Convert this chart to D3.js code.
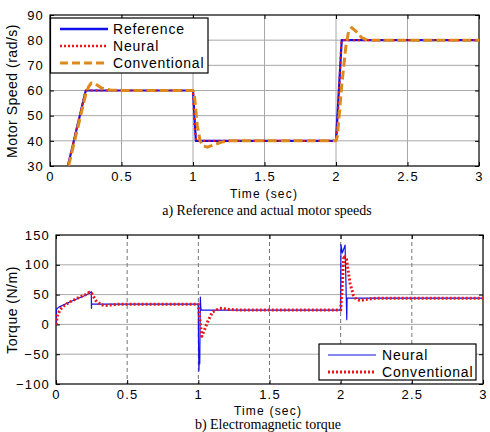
<!DOCTYPE html>
<html>
<head>
<meta charset="utf-8">
<script src="https://cdn.jsdelivr.net/npm/d3@7"></script>
<style>
body { margin: 0; background: #fff; }
svg { display: block; }
</style>
</head>
<body>
<div id="chart-area"></div>
<script>
// ---------------- data ----------------
// a) motor speed
var refTime = [0, 0.25, 1.0, 1.02, 2.0, 2.04, 3.0];
var refSpeed = [0, 60, 60, 40, 40, 80, 80];

var neuralTime = [0, 0.25, 1.0, 1.01, 1.022, 2.0, 2.01, 2.038, 3.0];
var neuralSpeed = [0, 60, 60, 46, 40, 40, 46, 80, 80];

var convTime = [0, 0.13, 0.25, 0.27, 0.29, 0.32, 0.36, 0.42, 0.5, 1.0, 1.01, 1.03, 1.05, 1.07, 1.1, 1.15, 1.2, 1.26, 2.0, 2.01, 2.04, 2.07, 2.09, 2.11, 2.14, 2.18, 2.22, 3.0];
var convSpeed = [0, 30, 58.5, 61.5, 63, 62.5, 61, 60.2, 60, 60, 58, 46, 40, 38, 37.5, 38.5, 39.5, 40, 40, 42, 62, 78, 84, 85, 83.5, 81, 80, 80];

// b) electromagnetic torque
var nTorqTime = [0, 0.004, 0.02, 0.1, 0.2, 0.24, 0.248, 0.249, 0.25, 0.252, 1.0, 1.001, 1.004, 1.007, 1.01, 1.014, 1.018, 1.02, 2.0, 2.002, 2.012, 2.031, 2.043, 2.045, 3.0];
var nTorque = [0, 26, 29, 38, 48, 53, 55, 27, 35, 34, 34, -20, -78, -58, -66, 46, 26, 24, 24, 134, 120, 133, 8, 44, 44];

var cTorqTime = [0, 0.01, 0.03, 0.06, 0.1, 0.15, 0.2, 0.235, 0.25, 0.28, 0.31, 0.34, 0.38, 0.45, 1.0, 1.01, 1.024, 1.05, 1.07, 1.1, 1.15, 1.2, 1.3, 2.0, 2.01, 2.018, 2.024, 2.04, 2.066, 2.089, 2.11, 2.136, 2.18, 2.25, 3.0];
var cTorque = [0, 15, 25, 32, 38, 44, 49, 54, 52, 40, 34, 31.5, 32.5, 34, 34, 10, -20, -5, 7, 21, 27, 25.5, 24, 24, 60, 100, 116, 110, 69, 49, 42, 40, 42, 44, 44];

var timeTicks = [0, 0.5, 1, 1.5, 2, 2.5, 3];
var speedTicksY = [30, 40, 50, 60, 70, 80, 90];
var torqueTicksY = [-100, -50, 0, 50, 100, 150];

var blue = "#1010e8", red = "#e8161b", orange = "#dc8a1e";
var sans = "Arial, 'Liberation Sans', sans-serif";

function zip(t, v) {
    return t.map(function(d, i) { return [d, v[i]]; });
}

var svg = d3.select("#chart-area").append("svg")
    .attr("width", 490)
    .attr("height", 432);

// builds one matlab style panel
function panel(box, yDomain, yTicks, vDashed, id) {
    var x = d3.scaleLinear().domain([0, 3]).range([box.left, box.right]);
    var y = d3.scaleLinear().domain(yDomain).range([box.bottom, box.top]);
    var w = box.right - box.left, h = box.bottom - box.top;

    svg.append("clipPath").attr("id", id)
        .append("rect").attr("x", box.left).attr("y", box.top).attr("width", w).attr("height", h);

    // grid
    var grid = svg.append("g");
    grid.selectAll(".hg").data(yTicks.slice(1, -1)).enter().append("line")
        .attr("x1", box.left).attr("x2", box.right)
        .attr("y1", function(d) { return y(d); }).attr("y2", function(d) { return y(d); })
        .attr("stroke", "#a8a8a8").attr("stroke-width", 1);
    grid.selectAll(".vg").data(timeTicks.slice(1, -1)).enter().append("line")
        .attr("y1", box.top).attr("y2", box.bottom)
        .attr("x1", function(d) { return x(d); }).attr("x2", function(d) { return x(d); })
        .attr("stroke", vDashed ? "#777" : "#a8a8a8").attr("stroke-width", 1)
        .attr("stroke-dasharray", vDashed ? "4,3" : null);

    // axes, ticks pointing inwards
    var axes = svg.append("g");
    axes.append("g").attr("transform", "translate(0," + box.bottom + ")")
        .call(d3.axisBottom(x).tickValues(timeTicks).tickSize(-4).tickPadding(6).tickFormat(d3.format("")));
    axes.append("g").attr("transform", "translate(" + box.left + ",0)")
        .call(d3.axisLeft(y).tickValues(yTicks).tickSize(-4).tickPadding(6));
    axes.append("g").attr("transform", "translate(0," + box.top + ")")
        .call(d3.axisTop(x).tickValues(timeTicks).tickSize(-4).tickFormat(""));
    axes.append("g").attr("transform", "translate(" + box.right + ",0)")
        .call(d3.axisRight(y).tickValues(yTicks).tickSize(-4).tickFormat(""));
    axes.selectAll(".domain").remove();
    axes.selectAll(".tick line").attr("stroke", "#000");
    axes.selectAll(".tick text")
        .attr("font-family", sans)
        .attr("font-size", "13px")
        .attr("letter-spacing", 1.2)
        .attr("fill", "#000");

    axes.append("rect").attr("x", box.left).attr("y", box.top).attr("width", w).attr("height", h)
        .attr("fill", "none").attr("stroke", "#000").attr("stroke-width", 1.2);

    return {x: x, y: y};
}

function drawLine(sc, data, color, width, dash, clip) {
    svg.append("path")
        .datum(data)
        .attr("clip-path", "url(#" + clip + ")")
        .attr("fill", "none")
        .attr("stroke", color)
        .attr("stroke-width", width)
        .attr("stroke-dasharray", dash)
        .attr("stroke-linejoin", "round")
        .attr("d", d3.line().x(function(d) { return sc.x(d[0]); }).y(function(d) { return sc.y(d[1]); }));
}

function label(txt, x, y, size, font, rot, spacing) {
    svg.append("text")
        .attr("x", x).attr("y", y)
        .attr("text-anchor", "middle")
        .attr("font-family", font)
        .attr("font-size", size + "px")
        .attr("letter-spacing", spacing || 0)
        .attr("transform", rot ? "rotate(-90," + x + "," + y + ")" : null)
        .text(txt);
}

function legend(x0, y0, w, h, rows, lx1, lx2, tx) {
    var g = svg.append("g");
    g.append("rect").attr("x", x0).attr("y", y0).attr("width", w).attr("height", h)
        .attr("fill", "#fff").attr("stroke", "#000").attr("stroke-width", 1.2);
    rows.forEach(function(r, i) {
        var yy = y0 + 11 + i * 17;
        g.append("line").attr("x1", lx1).attr("x2", lx2).attr("y1", yy).attr("y2", yy)
            .attr("stroke", r.color).attr("stroke-width", r.width).attr("stroke-dasharray", r.dash);
        g.append("text").attr("x", tx).attr("y", yy + 5)
            .attr("font-family", sans)
            .attr("font-size", "14px").attr("letter-spacing", 0.8)
            .text(r.name);
    });
}

// ---------------- a) speeds ----------------
var speedPanel = panel({left: 50, right: 479, top: 15, bottom: 166}, [30, 90], speedTicksY, false, "clipA");
drawLine(speedPanel, zip(refTime, refSpeed), blue, 2.2, null, "clipA");
drawLine(speedPanel, zip(neuralTime, neuralSpeed), red, 2.2, "2,3", "clipA");
drawLine(speedPanel, zip(convTime, convSpeed), orange, 3, "9,4", "clipA");

legend(50.5, 18, 157.5, 55, [
    {name: "Reference", color: blue, width: 2.5, dash: null},
    {name: "Neural", color: red, width: 2.5, dash: "2,2"},
    {name: "Conventional", color: orange, width: 3, dash: "8,4"}
], 60, 108, 113);

label("Motor Speed (rad/s)", 17, 91, 14, sans, true, 0.5);
label("Time (sec)", 264, 198, 12, sans, false, 1.2);
label("a) Reference and actual motor speeds", 267, 215, 14, "'Liberation Serif', 'Times New Roman', serif");

// ---------------- b) torque ----------------
var torquePanel = panel({left: 56, right: 483, top: 235, bottom: 384}, [-100, 150], torqueTicksY, true, "clipB");
drawLine(torquePanel, zip(nTorqTime, nTorque), blue, 1.2, null, "clipB");
drawLine(torquePanel, zip(cTorqTime, cTorque), red, 3, "2,2", "clipB");

legend(319, 344, 157, 36, [
    {name: "Neural", color: blue, width: 1.2, dash: null},
    {name: "Conventional", color: red, width: 3, dash: "2,2"}
], 328, 376, 382);

label("Torque (N/m)", 17, 310, 14, sans, true, 0.5);
label("Time (sec)", 268, 415, 12, sans, false, 1.2);
label("b) Electromagnetic torque", 268, 429, 14, "'Liberation Serif', 'Times New Roman', serif");
</script>
</body>
</html>
